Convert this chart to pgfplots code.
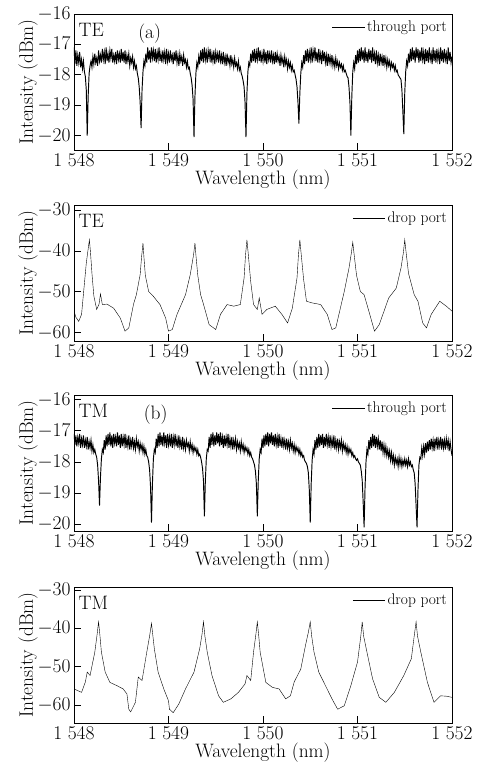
\RequirePackage{fix-cm}
\documentclass[border=0pt]{standalone}
\usepackage{pgfplots}
\pgfplotsset{compat=1.18}

\newcommand{\bigfont}{\fontsize{19.5}{22}\selectfont}
\pgfplotsset{
  panel/.style={
    scale only axis,
    width=378bp, height=136bp,
    xmin=1548, xmax=1552,
    xtick={1548,1549,1550,1551,1552},
    xtick pos=left, ytick pos=left,
    tick align=inside,
    major tick length=7bp,
    font=\bigfont,
    tick label style={font=\bigfont},
    label style={font=\bigfont},
    x tick label style={/pgf/number format/1000 sep={\;}},
    xlabel={Wavelength (nm)},
    ylabel={Intensity (dBm)},
    xlabel style={yshift=3bp},
    ylabel style={yshift=-7bp},
    axis line style={line width=0.75pt},
    every tick/.style={black, line width=0.75pt},
    legend style={draw=none, fill=none, at={(0.995,0.97)}, anchor=north east,
      font=\fontsize{15.5}{17}\selectfont, inner sep=1pt},
    legend image code/.code={\draw[##1] (0cm,0cm) -- (1.15cm,0cm);},
    cycle list={{black, no marks, line width=0.75pt}},
  }
}

\begin{document}
\begin{tikzpicture}
\useasboundingbox (-74bp,14bp) rectangle (403bp,-754bp);

% (a) TE through port
\begin{axis}[panel, at={(0,0)}, anchor=north west,
  ymin=-20.47, ymax=-16, ytick={-20,-19,-18,-17,-16}]
\addplot+[line width=0.95pt] coordinates {
(1548.00,-17.1)(1548.01,-17.65)(1548.02,-17.2)(1548.03,-17.7)(1548.04,-17.35)(1548.05,-17.6)(1548.06,-17.25)(1548.07,-17.75)(1548.08,-17.5)(1548.09,-17.8)
(1548.10,-17.55)(1548.11,-17.9)(1548.12,-18.05)(1548.13,-18.5)(1548.14,-20.0)(1548.15,-18.7)(1548.16,-17.95)(1548.17,-17.7)(1548.18,-17.55)(1548.19,-17.75)
(1548.20,-17.4)(1548.21,-17.65)(1548.22,-17.3)(1548.23,-17.6)(1548.24,-17.45)(1548.25,-17.7)(1548.26,-17.2)(1548.27,-17.55)(1548.28,-17.35)(1548.29,-17.6)
(1548.30,-17.15)(1548.31,-17.5)(1548.32,-17.25)(1548.33,-17.65)(1548.34,-17.1)(1548.35,-17.55)(1548.36,-17.3)(1548.37,-17.6)(1548.38,-17.2)(1548.39,-17.45)
(1548.40,-17.15)(1548.41,-17.6)(1548.42,-17.35)(1548.43,-17.55)(1548.44,-17.25)(1548.45,-17.65)(1548.46,-17.2)(1548.47,-17.5)(1548.48,-17.3)(1548.49,-17.6)
(1548.50,-17.15)(1548.51,-17.55)(1548.52,-17.25)(1548.53,-17.6)(1548.54,-17.2)(1548.55,-17.65)(1548.56,-17.35)(1548.57,-17.55)(1548.58,-17.3)(1548.59,-17.7)
(1548.60,-17.45)(1548.61,-17.6)(1548.62,-17.4)(1548.63,-17.75)(1548.64,-17.55)(1548.65,-17.8)(1548.66,-17.7)(1548.67,-17.95)(1548.68,-18.1)(1548.69,-18.4)
(1548.70,-18.9)(1548.71,-19.75)(1548.72,-18.5)(1548.73,-17.9)(1548.74,-17.55)(1548.75,-17.7)(1548.76,-17.3)(1548.77,-17.6)(1548.78,-17.1)(1548.79,-17.5)
(1548.80,-17.2)(1548.81,-17.6)(1548.82,-17.1)(1548.83,-17.45)(1548.84,-17.2)(1548.85,-17.55)(1548.86,-17.15)(1548.87,-17.6)(1548.88,-17.25)(1548.89,-17.5)
(1548.90,-17.1)(1548.91,-17.55)(1548.92,-17.3)(1548.93,-17.6)(1548.94,-17.2)(1548.95,-17.5)(1548.96,-17.25)(1548.97,-17.65)(1548.98,-17.15)(1548.99,-17.55)
(1549.00,-17.3)(1549.01,-17.6)(1549.02,-17.2)(1549.03,-17.5)(1549.04,-17.35)(1549.05,-17.65)(1549.06,-17.25)(1549.07,-17.55)(1549.08,-17.2)(1549.09,-17.6)
(1549.10,-17.35)(1549.11,-17.7)(1549.12,-17.3)(1549.13,-17.55)(1549.14,-17.4)(1549.15,-17.7)(1549.16,-17.35)(1549.17,-17.6)(1549.18,-17.5)(1549.19,-17.75)
(1549.20,-17.55)(1549.21,-17.8)(1549.22,-17.75)(1549.23,-17.95)(1549.24,-18.1)(1549.25,-18.35)(1549.26,-18.8)(1549.27,-20.05)(1549.28,-18.7)(1549.29,-17.95)
(1549.30,-17.6)(1549.31,-17.75)(1549.32,-17.4)(1549.33,-17.65)(1549.34,-17.2)(1549.35,-17.55)(1549.36,-17.15)(1549.37,-17.6)(1549.38,-17.1)(1549.39,-17.5)
(1549.40,-17.25)(1549.41,-17.6)(1549.42,-17.2)(1549.43,-17.45)(1549.44,-17.15)(1549.45,-17.6)(1549.46,-17.3)(1549.47,-17.55)(1549.48,-17.2)(1549.49,-17.65)
(1549.50,-17.25)(1549.51,-17.5)(1549.52,-17.3)(1549.53,-17.6)(1549.54,-17.2)(1549.55,-17.55)(1549.56,-17.35)(1549.57,-17.65)(1549.58,-17.25)(1549.59,-17.6)
(1549.60,-17.4)(1549.61,-17.7)(1549.62,-17.3)(1549.63,-17.6)(1549.64,-17.45)(1549.65,-17.7)(1549.66,-17.35)(1549.67,-17.65)(1549.68,-17.5)(1549.69,-17.75)
(1549.70,-17.45)(1549.71,-17.7)(1549.72,-17.6)(1549.73,-17.8)(1549.74,-17.55)(1549.75,-17.85)(1549.76,-17.75)(1549.77,-17.95)(1549.78,-18.05)(1549.79,-18.2)
(1549.80,-18.4)(1549.81,-18.9)(1549.82,-20.05)(1549.83,-18.6)(1549.84,-17.9)(1549.85,-17.6)(1549.86,-17.7)(1549.87,-17.3)(1549.88,-17.6)(1549.89,-17.2)
(1549.90,-17.55)(1549.91,-17.15)(1549.92,-17.6)(1549.93,-17.25)(1549.94,-17.5)(1549.95,-17.1)(1549.96,-17.55)(1549.97,-17.2)(1549.98,-17.6)(1549.99,-17.3)
(1550.00,-17.55)(1550.01,-17.15)(1550.02,-17.6)(1550.03,-17.25)(1550.04,-17.65)(1550.05,-17.2)(1550.06,-17.5)(1550.07,-17.3)(1550.08,-17.6)(1550.09,-17.2)
(1550.10,-17.55)(1550.11,-17.35)(1550.12,-17.65)(1550.13,-17.25)(1550.14,-17.6)(1550.15,-17.3)(1550.16,-17.55)(1550.17,-17.4)(1550.18,-17.7)(1550.19,-17.35)
(1550.20,-17.6)(1550.21,-17.45)(1550.22,-17.75)(1550.23,-17.4)(1550.24,-17.65)(1550.25,-17.5)(1550.26,-17.8)(1550.27,-17.55)(1550.28,-17.75)(1550.29,-17.6)
(1550.30,-17.85)(1550.31,-17.7)(1550.32,-17.9)(1550.33,-17.85)(1550.34,-18.0)(1550.35,-18.15)(1550.36,-18.4)(1550.37,-18.9)(1550.38,-19.6)(1550.39,-18.6)
(1550.40,-17.95)(1550.41,-17.6)(1550.42,-17.75)(1550.43,-17.35)(1550.44,-17.65)(1550.45,-17.2)(1550.46,-17.55)(1550.47,-17.15)(1550.48,-17.6)(1550.49,-17.25)
(1550.50,-17.5)(1550.51,-17.1)(1550.52,-17.6)(1550.53,-17.2)(1550.54,-17.45)(1550.55,-17.1)(1550.56,-17.55)(1550.57,-17.25)(1550.58,-17.6)(1550.59,-17.15)
(1550.60,-17.5)(1550.61,-17.3)(1550.62,-17.65)(1550.63,-17.2)(1550.64,-17.55)(1550.65,-17.25)(1550.66,-17.6)(1550.67,-17.35)(1550.68,-17.7)(1550.69,-17.3)
(1550.70,-17.6)(1550.71,-17.4)(1550.72,-17.65)(1550.73,-17.35)(1550.74,-17.7)(1550.75,-17.5)(1550.76,-17.75)(1550.77,-17.45)(1550.78,-17.7)(1550.79,-17.55)
(1550.80,-17.8)(1550.81,-17.6)(1550.82,-17.75)(1550.83,-17.65)(1550.84,-17.85)(1550.85,-17.7)(1550.86,-17.9)(1550.87,-17.85)(1550.88,-17.95)(1550.89,-18.05)
(1550.90,-18.1)(1550.91,-18.4)(1550.92,-18.9)(1550.93,-20.0)(1550.94,-18.7)(1550.95,-17.9)(1550.96,-17.6)(1550.97,-17.8)(1550.98,-17.35)(1550.99,-17.65)
(1551.00,-17.2)(1551.01,-17.6)(1551.02,-17.15)(1551.03,-17.55)(1551.04,-17.1)(1551.05,-17.5)(1551.06,-17.2)(1551.07,-17.6)(1551.08,-17.1)(1551.09,-17.55)
(1551.10,-17.25)(1551.11,-17.6)(1551.12,-17.15)(1551.13,-17.5)(1551.14,-17.2)(1551.15,-17.6)(1551.16,-17.1)(1551.17,-17.55)(1551.18,-17.3)(1551.19,-17.65)
(1551.20,-17.2)(1551.21,-17.6)(1551.22,-17.35)(1551.23,-17.7)(1551.24,-17.3)(1551.25,-17.6)(1551.26,-17.4)(1551.27,-17.7)(1551.28,-17.35)(1551.29,-17.65)
(1551.30,-17.45)(1551.31,-17.75)(1551.32,-17.5)(1551.33,-17.7)(1551.34,-17.55)(1551.35,-17.8)(1551.36,-17.6)(1551.37,-17.75)(1551.38,-17.65)(1551.39,-17.85)
(1551.40,-17.7)(1551.41,-17.9)(1551.42,-17.85)(1551.43,-18.0)(1551.44,-18.05)(1551.45,-18.1)(1551.46,-18.15)(1551.47,-18.5)(1551.48,-19.2)(1551.49,-19.95)
(1551.50,-18.6)(1551.51,-17.9)(1551.52,-17.55)(1551.53,-17.7)(1551.54,-17.3)(1551.55,-17.6)(1551.56,-17.15)(1551.57,-17.55)(1551.58,-17.1)(1551.59,-17.5)
(1551.60,-17.2)(1551.61,-17.6)(1551.62,-17.1)(1551.63,-17.45)(1551.64,-17.15)(1551.65,-17.6)(1551.66,-17.2)(1551.67,-17.55)(1551.68,-17.1)(1551.69,-17.5)
(1551.70,-17.25)(1551.71,-17.65)(1551.72,-17.15)(1551.73,-17.55)(1551.74,-17.2)(1551.75,-17.6)(1551.76,-17.1)(1551.77,-17.5)(1551.78,-17.3)(1551.79,-17.65)
(1551.80,-17.1)(1551.81,-17.55)(1551.82,-17.2)(1551.83,-17.6)(1551.84,-17.15)(1551.85,-17.5)(1551.86,-17.25)(1551.87,-17.65)(1551.88,-17.1)(1551.89,-17.55)
(1551.90,-17.2)(1551.91,-17.6)(1551.92,-17.15)(1551.93,-17.5)(1551.94,-17.3)(1551.95,-17.65)(1551.96,-17.1)(1551.97,-17.55)(1551.98,-17.25)(1551.99,-17.6)
(1552.00,-17.4)
};
\addlegendentry{through port}
\node[anchor=north west, inner sep=0pt] at (rel axis cs:0.012,0.93) {TE};
\node[anchor=north, inner sep=0pt] at (rel axis cs:0.2,0.93) {(a)};
\end{axis}

% TE drop port
\begin{axis}[panel, at={(0,-191bp)}, anchor=north west,
  ymin=-62, ymax=-28.8, ytick={-60,-50,-40,-30}]
\addplot coordinates {
(1548.00,-54.7)(1548.02,-56.2)(1548.05,-57.2)(1548.08,-55.5)(1548.11,-48)(1548.13,-43)
(1548.15,-39.5)(1548.163,-37.3)(1548.175,-40.5)(1548.19,-45.5)(1548.21,-51)(1548.24,-54.3)
(1548.265,-53)(1548.28,-50.5)(1548.30,-53.1)(1548.35,-53)(1548.42,-54)(1548.49,-56.4)
(1548.54,-59.6)(1548.58,-58.8)(1548.63,-53)(1548.66,-50.7)(1548.70,-45.8)(1548.715,-41.5)
(1548.73,-38.1)(1548.74,-41.5)(1548.755,-46)(1548.79,-49.9)(1548.84,-51.1)(1548.91,-53.1)
(1548.97,-56.4)(1549.00,-59.6)(1549.04,-59.2)(1549.09,-55.5)(1549.18,-50.7)(1549.23,-45.8)
(1549.265,-41)(1549.28,-38.1)(1549.29,-41)(1549.31,-46)(1549.34,-50.7)(1549.37,-53)
(1549.43,-58)(1549.50,-59.2)(1549.55,-55.5)(1549.62,-53.1)(1549.69,-53.5)(1549.76,-53.1)
(1549.80,-46.6)(1549.815,-41)(1549.83,-37.3)(1549.845,-41)(1549.87,-47.5)(1549.90,-53.1)
(1549.94,-54.3)(1549.96,-51.5)(1549.99,-55.5)(1550.04,-54.3)(1550.13,-53.5)(1550.20,-55.5)
(1550.26,-57.6)(1550.31,-54)(1550.36,-46.6)(1550.375,-41)(1550.39,-37.3)(1550.405,-41)
(1550.43,-47)(1550.46,-52.3)(1550.52,-52.7)(1550.61,-53.1)(1550.68,-55.5)(1550.73,-59.2)
(1550.77,-58.8)(1550.86,-49.9)(1550.91,-44.2)(1550.935,-40.5)(1550.95,-37.9)(1550.965,-41)
(1550.99,-46)(1551.03,-49.9)(1551.07,-50.7)(1551.12,-54.7)(1551.18,-59.6)(1551.23,-58)
(1551.33,-51.5)(1551.41,-49.1)(1551.46,-44.2)(1551.485,-40.5)(1551.50,-37.3)(1551.515,-40.5)
(1551.54,-45.5)(1551.60,-50.7)(1551.64,-52.3)(1551.69,-57.6)(1551.73,-58.8)(1551.78,-55.5)
(1551.87,-52.3)(1551.94,-53.5)(1552.00,-54.7)
};
\addlegendentry{drop port}
\node[anchor=north west, inner sep=0pt] at (rel axis cs:0.012,0.93) {TE};
\end{axis}

% (b) TM through port
\begin{axis}[panel, at={(0,-381bp)}, anchor=north west,
  ymin=-20.22, ymax=-15.85, ytick={-20,-19,-18,-17,-16}]
\addplot+[line width=0.95pt] coordinates {
(1548.00,-17.1)(1548.01,-17.45)(1548.02,-17.15)(1548.03,-17.5)(1548.04,-17.2)(1548.05,-17.4)(1548.06,-17.1)(1548.07,-17.55)(1548.08,-17.25)(1548.09,-17.45)
(1548.10,-17.15)(1548.11,-17.55)(1548.12,-17.3)(1548.13,-17.5)(1548.14,-17.2)(1548.15,-17.6)(1548.16,-17.35)(1548.17,-17.55)(1548.18,-17.3)(1548.19,-17.65)
(1548.20,-17.45)(1548.21,-17.7)(1548.22,-17.6)(1548.23,-17.75)(1548.24,-17.85)(1548.25,-18.1)(1548.26,-18.6)(1548.27,-19.4)(1548.28,-18.5)(1548.29,-17.9)
(1548.30,-17.6)(1548.31,-17.7)(1548.32,-17.3)(1548.33,-17.6)(1548.34,-17.15)(1548.35,-17.5)(1548.36,-17.1)(1548.37,-17.45)(1548.38,-17.05)(1548.39,-17.5)
(1548.40,-17.15)(1548.41,-17.55)(1548.42,-17.1)(1548.43,-17.4)(1548.44,-17.2)(1548.45,-17.5)(1548.46,-17.05)(1548.47,-17.45)(1548.48,-17.15)(1548.49,-17.55)
(1548.50,-17.1)(1548.51,-17.5)(1548.52,-17.2)(1548.53,-17.45)(1548.54,-17.1)(1548.55,-17.55)(1548.56,-17.25)(1548.57,-17.5)(1548.58,-17.15)(1548.59,-17.6)
(1548.60,-17.3)(1548.61,-17.5)(1548.62,-17.2)(1548.63,-17.55)(1548.64,-17.35)(1548.65,-17.6)(1548.66,-17.25)(1548.67,-17.5)(1548.68,-17.35)(1548.69,-17.65)
(1548.70,-17.4)(1548.71,-17.6)(1548.72,-17.45)(1548.73,-17.7)(1548.74,-17.5)(1548.75,-17.75)(1548.76,-17.6)(1548.77,-17.8)(1548.78,-17.85)(1548.79,-18.0)
(1548.80,-18.25)(1548.81,-18.8)(1548.82,-19.95)(1548.83,-18.7)(1548.84,-17.9)(1548.85,-17.6)(1548.86,-17.7)(1548.87,-17.25)(1548.88,-17.55)(1548.89,-17.1)
(1548.90,-17.5)(1548.91,-17.05)(1548.92,-17.45)(1548.93,-17.15)(1548.94,-17.5)(1548.95,-17.05)(1548.96,-17.4)(1548.97,-17.15)(1548.98,-17.55)(1548.99,-17.1)
(1549.00,-17.45)(1549.01,-17.2)(1549.02,-17.5)(1549.03,-17.1)(1549.04,-17.55)(1549.05,-17.2)(1549.06,-17.45)(1549.07,-17.1)(1549.08,-17.5)(1549.09,-17.25)
(1549.10,-17.55)(1549.11,-17.15)(1549.12,-17.5)(1549.13,-17.3)(1549.14,-17.6)(1549.15,-17.2)(1549.16,-17.55)(1549.17,-17.35)(1549.18,-17.6)(1549.19,-17.3)
(1549.20,-17.5)(1549.21,-17.4)(1549.22,-17.65)(1549.23,-17.35)(1549.24,-17.6)(1549.25,-17.45)(1549.26,-17.7)(1549.27,-17.5)(1549.28,-17.65)(1549.29,-17.55)
(1549.30,-17.75)(1549.31,-17.6)(1549.32,-17.8)(1549.33,-17.75)(1549.34,-17.85)(1549.35,-18.0)(1549.36,-18.2)(1549.37,-18.6)(1549.38,-19.75)(1549.39,-18.6)
(1549.40,-17.9)(1549.41,-17.6)(1549.42,-17.65)(1549.43,-17.2)(1549.44,-17.55)(1549.45,-17.1)(1549.46,-17.45)(1549.47,-17.05)(1549.48,-17.5)(1549.49,-17.15)
(1549.50,-17.45)(1549.51,-17.05)(1549.52,-17.4)(1549.53,-17.1)(1549.54,-17.5)(1549.55,-17.05)(1549.56,-17.45)(1549.57,-17.2)(1549.58,-17.55)(1549.59,-17.15)
(1549.60,-17.5)(1549.61,-17.2)(1549.62,-17.45)(1549.63,-17.1)(1549.64,-17.55)(1549.65,-17.25)(1549.66,-17.5)(1549.67,-17.2)(1549.68,-17.6)(1549.69,-17.3)
(1549.70,-17.5)(1549.71,-17.25)(1549.72,-17.6)(1549.73,-17.35)(1549.74,-17.55)(1549.75,-17.4)(1549.76,-17.65)(1549.77,-17.35)(1549.78,-17.6)(1549.79,-17.45)
(1549.80,-17.7)(1549.81,-17.5)(1549.82,-17.65)(1549.83,-17.55)(1549.84,-17.75)(1549.85,-17.6)(1549.86,-17.8)(1549.87,-17.7)(1549.88,-17.85)(1549.89,-17.9)
(1549.90,-18.0)(1549.91,-18.1)(1549.92,-18.3)(1549.93,-18.7)(1549.94,-19.75)(1549.95,-18.6)(1549.96,-17.9)(1549.97,-17.6)(1549.98,-17.7)(1549.99,-17.25)
(1550.00,-17.55)(1550.01,-17.15)(1550.02,-17.5)(1550.03,-17.1)(1550.04,-17.45)(1550.05,-17.05)(1550.06,-17.5)(1550.07,-17.1)(1550.08,-17.4)(1550.09,-17.05)
(1550.10,-17.45)(1550.11,-17.15)(1550.12,-17.5)(1550.13,-17.1)(1550.14,-17.45)(1550.15,-17.2)(1550.16,-17.55)(1550.17,-17.1)(1550.18,-17.5)(1550.19,-17.25)
(1550.20,-17.55)(1550.21,-17.2)(1550.22,-17.5)(1550.23,-17.3)(1550.24,-17.6)(1550.25,-17.25)(1550.26,-17.55)(1550.27,-17.35)(1550.28,-17.6)(1550.29,-17.3)
(1550.30,-17.55)(1550.31,-17.4)(1550.32,-17.65)(1550.33,-17.45)(1550.34,-17.7)(1550.35,-17.5)(1550.36,-17.65)(1550.37,-17.55)(1550.38,-17.75)(1550.39,-17.6)
(1550.40,-17.8)(1550.41,-17.7)(1550.42,-17.85)(1550.43,-17.8)(1550.44,-17.95)(1550.45,-18.0)(1550.46,-18.05)(1550.47,-18.15)(1550.48,-18.35)(1550.49,-18.9)
(1550.50,-19.95)(1550.51,-18.7)(1550.52,-17.95)(1550.53,-17.6)(1550.54,-17.75)(1550.55,-17.3)(1550.56,-17.6)(1550.57,-17.2)(1550.58,-17.55)(1550.59,-17.1)
(1550.60,-17.5)(1550.61,-17.15)(1550.62,-17.45)(1550.63,-17.1)(1550.64,-17.55)(1550.65,-17.2)(1550.66,-17.5)(1550.67,-17.1)(1550.68,-17.45)(1550.69,-17.2)
(1550.70,-17.55)(1550.71,-17.15)(1550.72,-17.5)(1550.73,-17.25)(1550.74,-17.55)(1550.75,-17.15)(1550.76,-17.6)(1550.77,-17.3)(1550.78,-17.55)(1550.79,-17.25)
(1550.80,-17.6)(1550.81,-17.35)(1550.82,-17.55)(1550.83,-17.3)(1550.84,-17.65)(1550.85,-17.4)(1550.86,-17.6)(1550.87,-17.45)(1550.88,-17.7)(1550.89,-17.5)
(1550.90,-17.75)(1550.91,-17.55)(1550.92,-17.7)(1550.93,-17.6)(1550.94,-17.8)(1550.95,-17.7)(1550.96,-17.85)(1550.97,-17.8)(1550.98,-17.9)(1550.99,-17.95)
(1551.00,-17.9)(1551.01,-18.0)(1551.02,-18.05)(1551.03,-18.1)(1551.04,-18.3)(1551.05,-18.6)(1551.06,-19.3)(1551.07,-20.1)(1551.08,-18.8)(1551.09,-18.0)
(1551.10,-17.6)(1551.11,-17.75)(1551.12,-17.3)(1551.13,-17.6)(1551.14,-17.2)(1551.15,-17.55)(1551.16,-17.1)(1551.17,-17.5)(1551.18,-17.15)(1551.19,-17.55)
(1551.20,-17.2)(1551.21,-17.5)(1551.22,-17.25)(1551.23,-17.6)(1551.24,-17.3)(1551.25,-17.65)(1551.26,-17.35)(1551.27,-17.7)(1551.28,-17.45)(1551.29,-17.75)
(1551.30,-17.5)(1551.31,-17.8)(1551.32,-17.6)(1551.33,-17.85)(1551.34,-17.65)(1551.35,-17.95)(1551.36,-17.7)(1551.37,-18.0)(1551.38,-17.8)(1551.39,-18.1)
(1551.40,-17.85)(1551.41,-18.05)(1551.42,-17.9)(1551.43,-18.15)(1551.44,-17.85)(1551.45,-18.1)(1551.46,-17.9)(1551.47,-18.15)(1551.48,-17.95)(1551.49,-18.1)
(1551.50,-17.9)(1551.51,-18.1)(1551.52,-17.95)(1551.53,-18.15)(1551.54,-17.9)(1551.55,-18.1)(1551.56,-18.0)(1551.57,-18.15)(1551.58,-18.1)(1551.59,-18.25)
(1551.60,-18.35)(1551.61,-18.7)(1551.62,-19.4)(1551.63,-20.1)(1551.64,-18.9)(1551.65,-18.1)(1551.66,-17.85)(1551.67,-17.9)(1551.68,-17.55)(1551.69,-17.8)
(1551.70,-17.5)(1551.71,-17.75)(1551.72,-17.4)(1551.73,-17.7)(1551.74,-17.35)(1551.75,-17.65)(1551.76,-17.3)(1551.77,-17.6)(1551.78,-17.25)(1551.79,-17.55)
(1551.80,-17.3)(1551.81,-17.65)(1551.82,-17.25)(1551.83,-17.5)(1551.84,-17.2)(1551.85,-17.6)(1551.86,-17.3)(1551.87,-17.5)(1551.88,-17.2)(1551.89,-17.6)
(1551.90,-17.25)(1551.91,-17.55)(1551.92,-17.3)(1551.93,-17.6)(1551.94,-17.25)(1551.95,-17.5)(1551.96,-17.3)(1551.97,-17.65)(1551.98,-17.35)(1551.99,-17.6)
(1552.00,-17.8)
};
\addlegendentry{through port}
\node[anchor=north west, inner sep=0pt] at (rel axis cs:0.012,0.93) {TM};
\node[anchor=north, inner sep=0pt] at (rel axis cs:0.216,0.93) {(b)};
\end{axis}

% TM drop port
\begin{axis}[panel, at={(0,-573bp)}, anchor=north west,
  ymin=-64.7, ymax=-29.2, ytick={-60,-50,-40,-30}]
\addplot coordinates {
(1548.00,-55.8)(1548.08,-56.7)(1548.12,-54)(1548.14,-51.4)(1548.17,-52.3)(1548.22,-46.2)
(1548.245,-41.5)(1548.26,-38.3)(1548.275,-42)(1548.29,-46.2)(1548.33,-51.4)(1548.38,-54.1)
(1548.45,-54.9)(1548.52,-55.8)(1548.56,-57.1)(1548.58,-61.1)(1548.60,-61.8)(1548.65,-59.3)
(1548.68,-52.7)(1548.72,-53.6)(1548.77,-46.2)(1548.80,-42)(1548.82,-38.7)(1548.835,-42)
(1548.85,-45.3)(1548.89,-51.4)(1548.95,-55.8)(1549.00,-58.9)(1549.01,-61.1)(1549.05,-62)
(1549.11,-59.7)(1549.18,-55.8)(1549.27,-51.4)(1549.33,-45.3)(1549.355,-41.5)(1549.37,-38.3)
(1549.385,-42)(1549.41,-46.2)(1549.46,-52.3)(1549.53,-57.6)(1549.58,-59.3)(1549.66,-58.4)
(1549.74,-56.7)(1549.81,-54.5)(1549.83,-52.3)(1549.87,-53.6)(1549.90,-46.2)(1549.925,-41.5)
(1549.94,-38.3)(1549.955,-42)(1549.97,-46.2)(1550.03,-54.1)(1550.10,-55.4)(1550.17,-55.8)
(1550.24,-58.4)(1550.29,-57.6)(1550.33,-54)(1550.40,-50.6)(1550.45,-44.4)(1550.48,-41)
(1550.50,-38.3)(1550.515,-42)(1550.54,-46.2)(1550.59,-51.4)(1550.66,-54.9)(1550.73,-58.4)
(1550.79,-61.1)(1550.86,-60.2)(1550.93,-54.9)(1551.00,-48.8)(1551.035,-42)(1551.05,-38.3)
(1551.065,-42)(1551.10,-46.2)(1551.16,-53.2)(1551.23,-58)(1551.30,-59.3)(1551.39,-56.7)
(1551.49,-52.3)(1551.57,-47.9)(1551.60,-42)(1551.62,-38.3)(1551.635,-42)(1551.67,-46.2)
(1551.74,-54.1)(1551.81,-59.3)(1551.88,-57.6)(1551.94,-57.7)(1552.00,-58)
};
\addlegendentry{drop port}
\node[anchor=north west, inner sep=0pt] at (rel axis cs:0.012,0.93) {TM};
\end{axis}

\end{tikzpicture}
\end{document}
